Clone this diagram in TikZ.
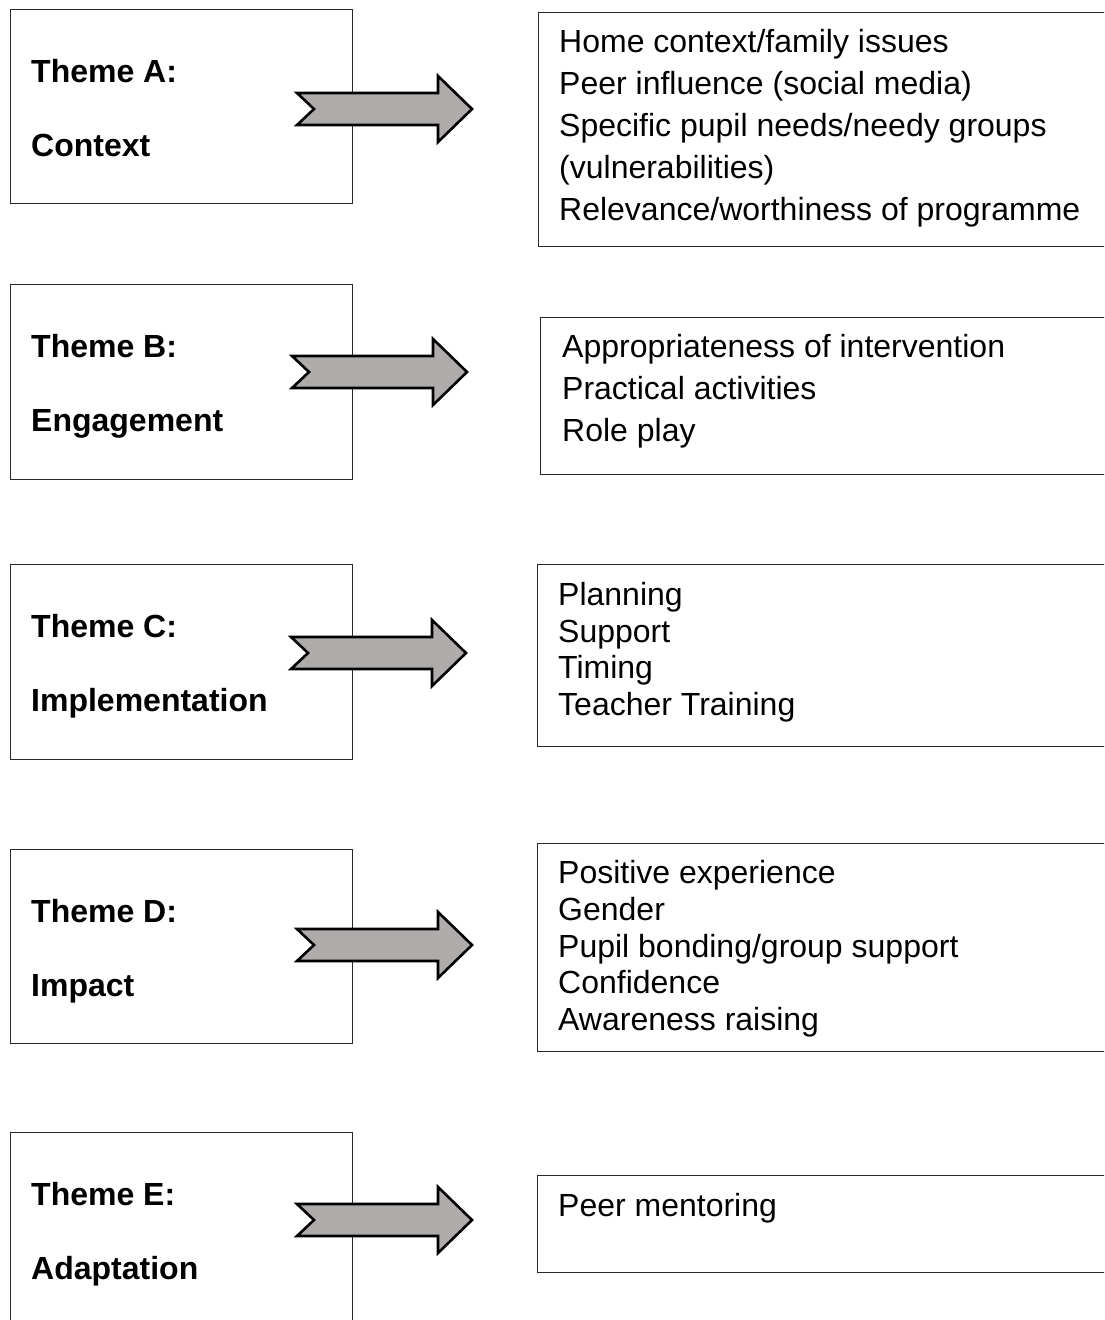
\documentclass[tikz,border=0pt]{standalone}
\usepackage{fontspec}
\setmainfont{Liberation Sans}
\definecolor{arrowgray}{RGB}{175,171,171}
\definecolor{boxline}{RGB}{40,40,40}
\newcommand\themearrow[3]{%
  \draw[blockarrow] (#2,#3-16) -- (#2+141,#3-16) -- (#2+141,#3-33) -- (#2+175,#3)
    -- (#2+141,#3+33) -- (#2+141,#3+16) -- (#2,#3+16) -- (#2+17,#3) -- cycle;
  \coordinate (#1) at (#2+175,#3);}
\begin{document}
\begin{tikzpicture}[x=1pt,y=-1pt,
  themebox/.style={draw=boxline, line width=1.3pt, inner sep=0pt, anchor=north west, minimum width=342pt},
  listbox/.style={draw=boxline, line width=1.3pt, inner sep=0pt, anchor=north west},
  lbl/.style={font=\bfseries\fontsize{32}{36}\selectfont, anchor=base west, inner sep=0pt},
  item/.style={font=\fontsize{32}{36}\selectfont, anchor=base west, inner sep=0pt},
  blockarrow/.style={draw=black, line width=2.6pt, fill=arrowgray, line join=miter}]
\useasboundingbox (0,0) rectangle (1104,1320);
\begin{scope}
\clip (0,0) rectangle (1104,1320);
% left theme boxes
\node[themebox, minimum height=194pt] (boxA) at (10,9) {};
\node[themebox, minimum height=195pt] (boxB) at (10,284) {};
\node[themebox, minimum height=195pt] (boxC) at (10,564) {};
\node[themebox, minimum height=194pt] (boxD) at (10,849) {};
\node[themebox, minimum height=210pt] (boxE) at (10,1132) {};
% right list boxes
\node[listbox, minimum width=575pt, minimum height=234pt] (listA) at (538,12) {};
\node[listbox, minimum width=573pt, minimum height=157pt] (listB) at (540,317) {};
\node[listbox, minimum width=576pt, minimum height=182pt] (listC) at (537,564) {};
\node[listbox, minimum width=576pt, minimum height=208pt] (listD) at (537,843) {};
\node[listbox, minimum width=576pt, minimum height=97pt] (listE) at (537,1175) {};
% arrows
\themearrow{arA}{297}{109}
\themearrow{arB}{292}{372}
\themearrow{arC}{291}{653}
\themearrow{arD}{297}{945}
\themearrow{arE}{297}{1220}
\end{scope}
% theme labels
\node[lbl] (tA) at (31,82) {Theme A:};
\node[lbl] (nA) at (31,156) {Context};
\node[lbl] (tB) at (31,357) {Theme B:};
\node[lbl] (nB) at (31,431) {Engagement};
\node[lbl] (tC) at (31,637) {Theme C:};
\node[lbl] (nC) at (31,711) {Implementation};
\node[lbl] (tD) at (31,922) {Theme D:};
\node[lbl] (nD) at (31,996) {Impact};
\node[lbl] (tE) at (31,1205) {Theme E:};
\node[lbl] (nE) at (31,1279) {Adaptation};
% list A
\node[item] (a1) at (559,52) {Home context/family issues};
\node[item] (a2) at (559,94) {Peer influence (social media)};
\node[item] (a3) at (559,136) {Specific pupil needs/needy groups};
\node[item] (a4) at (559,178) {(vulnerabilities)};
\node[item] (a5) at (559,220) {Relevance/worthiness of programme};
% list B
\node[item] (b1) at (562,357) {Appropriateness of intervention};
\node[item] (b2) at (562,399) {Practical activities};
\node[item] (b3) at (562,441) {Role play};
% list C
\node[item] (c1) at (558,605) {Planning};
\node[item] (c2) at (558,642) {Support};
\node[item] (c3) at (558,678) {Timing};
\node[item] (c4) at (558,715) {Teacher Training};
% list D
\node[item] (d1) at (558,883) {Positive experience};
\node[item] (d2) at (558,920) {Gender};
\node[item] (d3) at (558,957) {Pupil bonding/group support};
\node[item] (d4) at (558,993) {Confidence};
\node[item] (d5) at (558,1030) {Awareness raising};
% list E
\node[item] (e1) at (558,1216) {Peer mentoring};
\end{tikzpicture}
\end{document}
